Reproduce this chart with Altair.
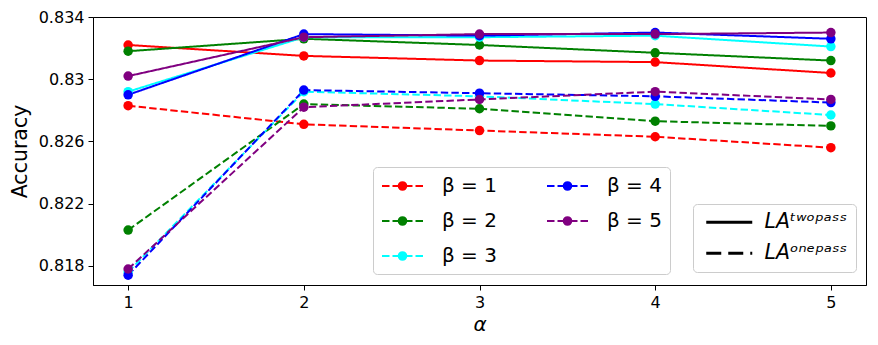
import altair as alt
import pandas as pd

alpha = [1, 2, 3, 4, 5]
beta_labels = ["β = 1", "β = 2", "β = 3", "β = 4", "β = 5"]
beta_colors = ["#ff0000", "#008000", "#00ffff", "#0000ff", "#800080"]

two_pass = [
    [0.8322, 0.8315, 0.8312, 0.8311, 0.8304],
    [0.8318, 0.8326, 0.8322, 0.8317, 0.8312],
    [0.8292, 0.8327, 0.8327, 0.8328, 0.8321],
    [0.8290, 0.8329, 0.8328, 0.8330, 0.8326],
    [0.8302, 0.8327, 0.8329, 0.8329, 0.8330],
]
one_pass = [
    [0.8283, 0.8271, 0.8267, 0.8263, 0.8256],
    [0.8203, 0.8284, 0.8281, 0.8273, 0.8270],
    [0.8176, 0.8292, 0.8289, 0.8284, 0.8277],
    [0.8174, 0.8293, 0.8291, 0.8289, 0.8285],
    [0.8178, 0.8282, 0.8287, 0.8292, 0.8287],
]
pass_labels = ["LAᵗʷᵒᵖᵃˢˢ", "LAᵒⁿᵉᵖᵃˢˢ"]
y_ticks = [0.818, 0.822, 0.826, 0.830, 0.834]

rows = []
for series, plabel in ((two_pass, pass_labels[0]), (one_pass, pass_labels[1])):
    for b, vals in zip(beta_labels, series):
        for a, v in zip(alpha, vals):
            rows.append({"alpha": a, "beta": b, "pass": plabel, "acc": v,
                         "grp": b + plabel})
df = pd.DataFrame(rows)

color_scale = alt.Scale(domain=beta_labels, range=beta_colors)

beta_symbol = (
    "M-1,0H-0.25M0.05,0H0.8M1.3,0H2.05M2.35,0H3.1"
    "M1.43,0A0.38,0.38,0,1,1,0.67,0A0.38,0.38,0,1,1,1.43,0Z"
    "M1.29,0A0.24,0.24,0,1,1,0.81,0A0.24,0.24,0,1,1,1.29,0Z"
    "M1.15,0A0.1,0.1,0,1,1,0.95,0A0.1,0.1,0,1,1,1.15,0Z"
)

x_enc = alt.X("alpha:Q", scale=alt.Scale(domain=[0.8, 5.2], nice=False, zero=False),
              axis=alt.Axis(values=alpha, format="d", title="α",
                            titleFontStyle="italic", titleFontSize=20,
                            titleFontWeight="normal", titlePadding=4))
y_enc = alt.Y("acc:Q", scale=alt.Scale(domain=[0.81677, 0.834], nice=False, zero=False),
              axis=alt.Axis(values=y_ticks, format=".3~f", title="Accuracy",
                            titleFontSize=20.5, titleFontWeight="normal",
                            titlePadding=8))

lines = alt.Chart(df).mark_line(strokeWidth=2).encode(
    x=x_enc,
    y=y_enc,
    detail="grp:N",
    color=alt.Color("beta:N", scale=color_scale,
                    legend=alt.Legend(
                        title=None, orient="none", legendX=280, legendY=150,
                        columns=2, symbolType=beta_symbol, symbolSize=400,
                        symbolStrokeWidth=2, labelFontSize=20, labelOffset=39,
                        columnPadding=46, rowPadding=14, padding=8,
                        fillColor="white", strokeColor="#cccccc",
                        cornerRadius=4, labelColor="black")),
    strokeDash=alt.StrokeDash("pass:N",
                              scale=alt.Scale(domain=pass_labels,
                                              range=[[1, 0], [7.4, 3.2]]),
                              legend=None),
)

points = alt.Chart(df).mark_point(filled=True, size=90, opacity=1).encode(
    x="alpha:Q",
    y="acc:Q",
    color=alt.Color("beta:N", scale=color_scale, legend=None),
)

# legend-only layer for the two line styles (no rows survive the filter)
pass_key = alt.Chart(df).transform_filter("false").mark_line(
    color="black", strokeWidth=3).encode(
    x="alpha:Q",
    y="acc:Q",
    strokeDash=alt.StrokeDash("pass:N",
                              scale=alt.Scale(domain=pass_labels,
                                              range=[[1, 0], [15, 7]]),
                              legend=alt.Legend(
                                  title=None, orient="none", legendX=600,
                                  legendY=187, symbolType="M-1,0H8.2",
                                  symbolSize=100, symbolStrokeWidth=3,
                                  symbolStrokeColor="black",
                                  labelFontSize=20.5, labelFontStyle="italic",
                                  labelOffset=43, rowPadding=10, padding=8,
                                  fillColor="white", strokeColor="#cccccc",
                                  cornerRadius=4, labelColor="black")),
)

chart = (
    alt.layer(lines, points, pass_key)
    .resolve_scale(strokeDash="independent")
    .properties(width=773, height=268,
                autosize=alt.AutoSizeParams(type="none"),
                padding={"left": 85, "top": 9, "right": 4, "bottom": 50})
    .configure(font="DejaVu Sans")
    .configure_view(stroke="black", strokeWidth=1)
    .configure_axis(grid=False, domainColor="black", tickColor="black",
                    tickSize=5, labelFontSize=16, labelColor="black",
                    titleColor="black", labelPadding=4, domainWidth=1)
)

chart.save("out.html", embed_options={"renderer": "svg", "actions": False})
